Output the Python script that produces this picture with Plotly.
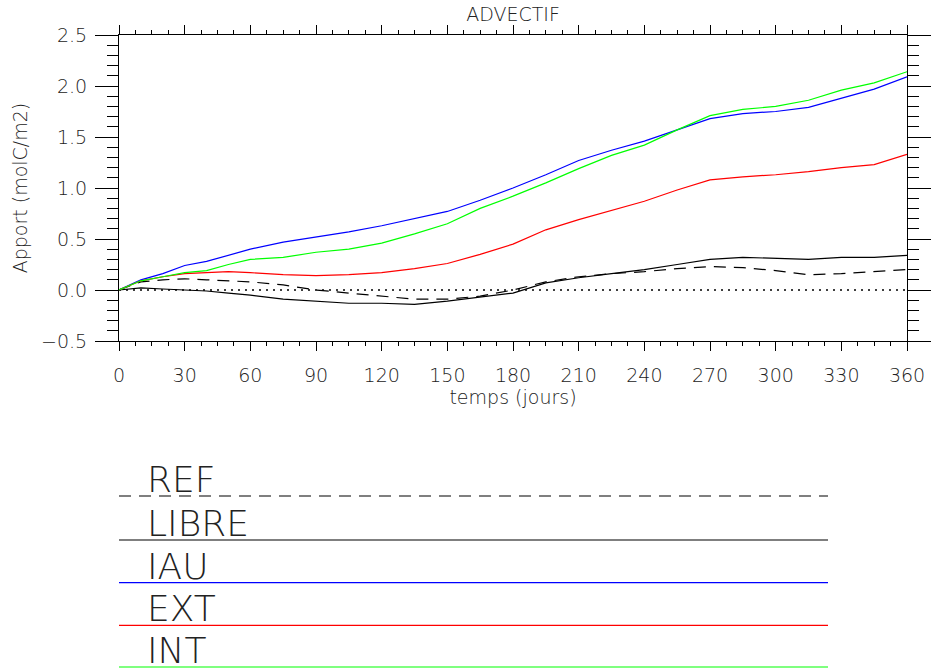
import plotly.graph_objects as go

# ---- data ----
days = [0, 10, 20, 30, 40, 50, 60, 75, 90, 105, 120, 135, 150, 165, 180,
        195, 210, 225, 240, 255, 270, 285, 300, 315, 330, 345, 360]
ref = [0.00, 0.08, 0.10, 0.11, 0.10, 0.09, 0.08, 0.05, 0.00, -0.03, -0.06, -0.09, -0.09, -0.06, 0.00,
       0.08, 0.13, 0.16, 0.18, 0.21, 0.23, 0.22, 0.19, 0.15, 0.16, 0.18, 0.20]
libre = [0.00, 0.02, 0.01, 0.00, -0.01, -0.03, -0.05, -0.09, -0.11, -0.13, -0.13, -0.14, -0.11, -0.07, -0.03,
         0.07, 0.12, 0.16, 0.20, 0.25, 0.30, 0.32, 0.31, 0.30, 0.32, 0.32, 0.34]
iau = [0.00, 0.10, 0.16, 0.24, 0.28, 0.34, 0.40, 0.47, 0.52, 0.57, 0.63, 0.70, 0.77, 0.88, 1.00,
       1.13, 1.27, 1.37, 1.46, 1.57, 1.68, 1.73, 1.75, 1.79, 1.88, 1.97, 2.09]
ext = [0.00, 0.09, 0.13, 0.16, 0.17, 0.18, 0.17, 0.15, 0.14, 0.15, 0.17, 0.21, 0.26, 0.35, 0.45,
       0.59, 0.69, 0.78, 0.87, 0.98, 1.08, 1.11, 1.13, 1.16, 1.20, 1.23, 1.33]
intr = [0.00, 0.09, 0.13, 0.17, 0.19, 0.25, 0.30, 0.32, 0.37, 0.40, 0.46, 0.55, 0.65, 0.80, 0.92,
        1.05, 1.19, 1.32, 1.42, 1.57, 1.71, 1.77, 1.80, 1.86, 1.96, 2.03, 2.14]

names = ["REF", "LIBRE", "IAU", "EXT", "INT"]
values = [ref, libre, iau, ext, intr]
colors = ["black", "black", "#0000ff", "#ff0000", "#00ff00"]
dashes = ["12px,8px", "solid", "solid", "solid", "solid"]

zero_x = [0, 360]
zero_y = [0, 0]

x_ticks = list(range(0, 361, 30))
y_ticks = [-0.5, 0.0, 0.5, 1.0, 1.5, 2.0, 2.5]
y_ticklabels = ["\u22120.5", "0.0", "0.5", "1.0", "1.5", "2.0", "2.5"]

FONT = "DejaVu Sans"
TXT = "#222"

fig = go.Figure()
fig.add_trace(go.Scatter(x=zero_x, y=zero_y, mode="lines",
                         line=dict(color="black", width=1.5, dash="2px,5px"),
                         showlegend=False, hoverinfo="skip"))
for nm, v, c, d in zip(names, values, colors, dashes):
    fig.add_trace(go.Scatter(x=days, y=v, mode="lines", name=nm,
                             line=dict(color=c, width=1.2, dash=d),
                             showlegend=False))

W, H = 931, 671
L, R, T, B = 119, 24, 35, 330
plot_h = H - T - B

axis_common = dict(showline=True, linecolor="black", linewidth=1, mirror="ticks",
                   ticks="outside", tickcolor="black", showgrid=False, zeroline=False,
                   automargin=False,
                   tickfont=dict(family=FONT, size=19, color=TXT, weight=200))

fig.update_layout(
    width=W, height=H,
    margin=dict(l=L, r=R, t=T, b=B, pad=0, autoexpand=False),
    plot_bgcolor="white", paper_bgcolor="white",
    showlegend=False,
    xaxis=dict(range=[0, 360], tickmode="array", tickvals=x_ticks, ticklen=9,
               tickwidth=1, ticklabelstandoff=8,
               minor=dict(dtick=7.5, tick0=0, ticklen=4, ticks="outside", tickcolor="black", showgrid=False),
               title=dict(text="temps (jours)", font=dict(family=FONT, size=19, color=TXT, weight=200),
                          standoff=2),
               **axis_common),
    yaxis=dict(range=[-0.5, 2.5], tickmode="array", tickvals=y_ticks, ticktext=y_ticklabels,
               ticklen=23, tickwidth=1, ticklabelstandoff=4,
               minor=dict(dtick=0.1, tick0=0, ticklen=11, ticks="outside", tickcolor="black", showgrid=False),
               title=dict(text="Apport (molC/m2)", font=dict(family=FONT, size=19, color=TXT, weight=200),
                          standoff=8),
               **axis_common),
    title=dict(text="ADVECTIF", x=513 / W, xanchor="center", y=1 - 14 / H, yanchor="middle",
               automargin=False,
               font=dict(family=FONT, size=19, color=TXT, weight=200)),
)

# ---- legend drawn below the plot ----
legend_line_px = [496, 540, 582.7, 625.3, 667]
leg_x0 = 0.0
leg_x1 = (828 - L) / (W - L - R)
leg_text_x = (145 - L) / (W - L - R)
for nm, c, d, py in zip(names, colors, dashes, legend_line_px):
    yp = (H - B - py) / plot_h
    fig.add_shape(type="line", xref="paper", yref="paper", x0=leg_x0, x1=leg_x1, y0=yp, y1=yp,
                  line=dict(color=c, width=1.2, dash=d))
    fig.add_annotation(text=nm, xref="paper", yref="paper", x=leg_text_x, y=yp,
                       xanchor="left", yanchor="bottom", yshift=-6, showarrow=False,
                       font=dict(family=FONT, size=36, color=TXT, weight=200))

fig.write_html("out.html", config={"displayModeBar": False},
               post_script="document.body.style.margin='0';document.body.style.overflow='hidden';")
